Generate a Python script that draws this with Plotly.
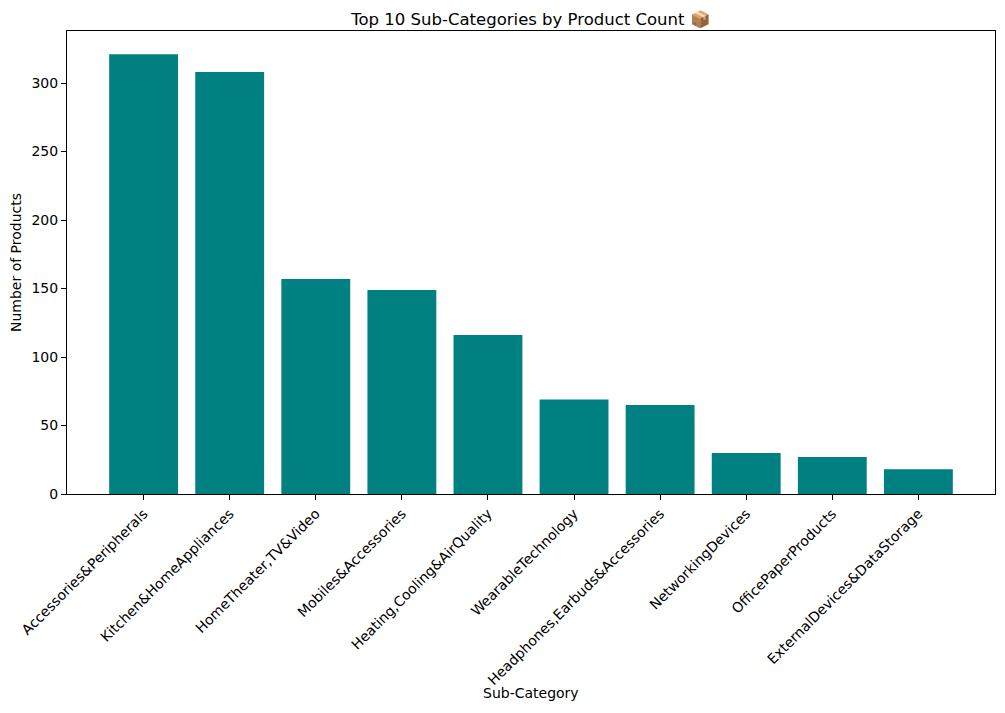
import plotly.graph_objects as go

# data
sub_categories = [
    "Accessories&Peripherals",
    "Kitchen&HomeAppliances",
    "HomeTheater,TV&Video",
    "Mobiles&Accessories",
    "Heating,Cooling&AirQuality",
    "WearableTechnology",
    "Headphones,Earbuds&Accessories",
    "NetworkingDevices",
    "OfficePaperProducts",
    "ExternalDevices&DataStorage",
]
product_counts = [321, 308, 157, 149, 116, 69, 65, 30, 27, 18]

font_family = "DejaVu Sans"

fig = go.Figure()
fig.add_trace(go.Bar(
    x=sub_categories,
    y=product_counts,
    marker=dict(color="#008080", line=dict(width=0)),
    width=0.8,
))

# page has an 8px body margin, so the figure is a bit smaller than the window
fig.update_layout(
    width=997,
    height=705,
    margin=dict(l=59, r=10, t=23, b=219, autoexpand=False),
    plot_bgcolor="white",
    paper_bgcolor="white",
    font=dict(family=font_family, size=14, color="black"),
    showlegend=False,
    title=dict(
        text="Top 10 Sub-Categories by Product Count 📦",
        x=0.5, xref="paper", xanchor="center",
        y=1, yref="paper", yanchor="bottom", pad=dict(b=6),
        font=dict(family=font_family, size=16.5, color="black"),
    ),
)

fig.add_annotation(
    text="Sub-Category", x=0.5, y=-0.43, xref="paper", yref="paper",
    xanchor="center", yanchor="middle", showarrow=False,
    font=dict(family=font_family, size=14, color="black"),
)

fig.update_xaxes(
    range=[-0.89, 9.89],
    tickangle=-45,
    ticks="outside", ticklen=5, tickcolor="black",
    showline=True, linecolor="black", linewidth=1, mirror=True,
    showgrid=False, automargin=False,
    tickfont=dict(size=14),
)
fig.update_yaxes(
    range=[0, 338],
    tickvals=[0, 50, 100, 150, 200, 250, 300],
    ticks="outside", ticklen=5, tickcolor="black",
    showline=True, linecolor="black", linewidth=1, mirror=True,
    showgrid=False, zeroline=False, automargin=False,
    tickfont=dict(size=14),
    title=dict(text="Number of Products", font=dict(size=14), standoff=8),
)

fig.write_html("out.html")
